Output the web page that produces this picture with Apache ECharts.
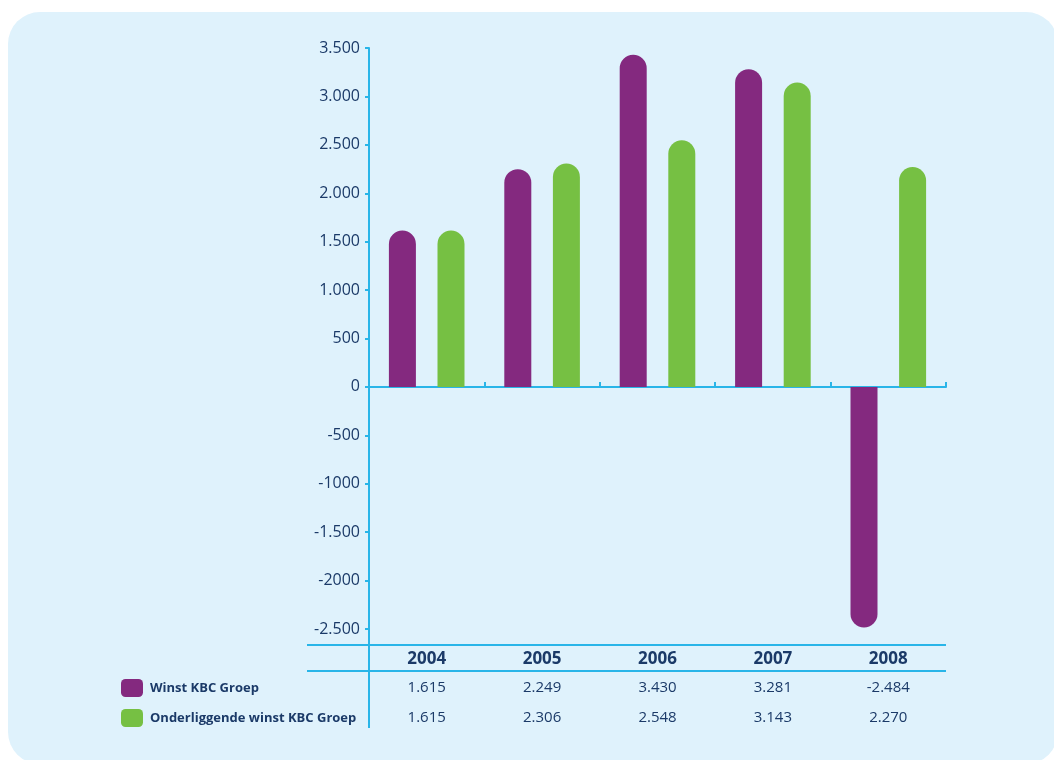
<!DOCTYPE html>
<html>
<head>
<meta charset="utf-8">
<script src="https://cdn.jsdelivr.net/npm/echarts@6/dist/echarts.min.js"></script>
<style>
  html, body { margin: 0; padding: 0; background: #ffffff; }
  #panel { position: absolute; left: 8px; top: 12px; width: 1050px; height: 752px; border-radius: 32px; background: #dff2fc; }
  #chart { position: absolute; left: 0; top: 0; width: 1054px; height: 760px; }
</style>
</head>
<body>
<div id="panel"></div>
<div id="chart"></div>
<script>
const categories = ['2004', '2005', '2006', '2007', '2008'];
const seriesNames = ['Winst KBC Groep', 'Onderliggende winst KBC Groep'];
const winst = [1615, 2249, 3430, 3281, -2484];
const onderliggend = [1615, 2306, 2548, 3143, 2270];
const yTickValues = [-2500, -2000, -1500, -1000, -500, 0, 500, 1000, 1500, 2000, 2500, 3000, 3500];
const yTickLabels = ['-2.500', '-2000', '-1.500', '-1000', '-500', '0', '500', '1.000', '1.500', '2.000', '2.500', '3.000', '3.500'];

const NAVY = '#1b3a68';
const AXIS = '#29b5e8';
const PURPLE = '#84297f';
const GREEN = '#76c043';
const FONT = '"Open Sans", "Noto Sans", sans-serif';
const BW = 27;
const R = BW / 2;

function fmt(v) {
  const s = Math.abs(v).toString();
  const parts = [];
  for (let i = s.length; i > 0; i -= 3) parts.unshift(s.substring(Math.max(0, i - 3), i));
  return (v < 0 ? '-' : '') + parts.join('.');
}
function barData(arr) {
  return arr.map(v => ({
    value: v,
    itemStyle: { borderRadius: v >= 0 ? [R, R, 0, 0] : [0, 0, R, R] }
  }));
}

const chart = echarts.init(document.getElementById('chart'), null, { renderer: 'canvas' });
const option = {
  backgroundColor: 'transparent',
  animation: false,
  textStyle: { fontFamily: FONT },
  grid: { left: 369, right: 108, top: 48, bottom: 131 },
  legend: {
    orient: 'vertical',
    left: 116, top: 674,
    itemWidth: 22, itemHeight: 18, itemGap: 12,
    icon: 'roundRect',
    selectedMode: false,
    textStyle: { color: NAVY, fontWeight: 'bold', fontSize: 13, fontFamily: FONT, padding: [0, 0, 0, 2] },
    data: seriesNames
  },
  xAxis: [{
    type: 'category',
    data: categories,
    axisLine: { onZero: true, lineStyle: { color: AXIS, width: 2 } },
    axisTick: { show: true, inside: true, length: 5, lineStyle: { color: AXIS, width: 2 } },
    axisLabel: { show: false }
  }, {
    type: 'category',
    data: categories,
    position: 'bottom',
    axisLine: { show: false },
    axisTick: { show: false },
    axisLabel: { show: true, margin: 22, color: NAVY, fontWeight: 'bold', fontSize: 17, fontFamily: FONT }
  }],
  yAxis: {
    type: 'value',
    min: -2500, max: 3500, interval: 500,
    splitLine: { show: false },
    axisLine: { show: true, lineStyle: { color: AXIS, width: 2 } },
    axisTick: { show: true, length: 4, lineStyle: { color: AXIS, width: 2 } },
    axisLabel: {
      color: NAVY, fontSize: 16, margin: 9, fontFamily: FONT,
      formatter: v => { const i = yTickValues.indexOf(v); return i >= 0 ? yTickLabels[i] : ''; }
    }
  },
  series: [{
    name: seriesNames[0], type: 'bar', barWidth: BW, barGap: '80%',
    itemStyle: { color: PURPLE },
    data: barData(winst)
  }, {
    name: seriesNames[1], type: 'bar', barWidth: BW, barGap: '80%',
    itemStyle: { color: GREEN },
    data: barData(onderliggend)
  }]
};
chart.setOption(option);

// data table built from the arrays, positioned through the axis scales
const yBottom = chart.convertToPixel({ yAxisIndex: 0 }, -2500);
const xLeft = 369, xRight = 946;
const lineTop = 645, lineHead = 671;
const row1 = 688, row2 = 718;
const g = [
  { type: 'line', shape: { x1: 307, y1: lineTop, x2: xRight, y2: lineTop }, style: { stroke: AXIS, lineWidth: 2 } },
  { type: 'line', shape: { x1: 307, y1: lineHead, x2: xRight, y2: lineHead }, style: { stroke: AXIS, lineWidth: 2 } },
  { type: 'line', shape: { x1: xLeft, y1: yBottom, x2: xLeft, y2: 728 }, style: { stroke: AXIS, lineWidth: 2 } }
];
categories.forEach((c, i) => {
  const x = chart.convertToPixel({ xAxisIndex: 0 }, c);
  g.push({ type: 'text', x: x, y: row1, style: { text: fmt(winst[i]), fill: NAVY, font: '15px ' + FONT, textAlign: 'center', textVerticalAlign: 'middle' } });
  g.push({ type: 'text', x: x, y: row2, style: { text: fmt(onderliggend[i]), fill: NAVY, font: '15px ' + FONT, textAlign: 'center', textVerticalAlign: 'middle' } });
});
chart.setOption({ graphic: g });
</script>
</body>
</html>
